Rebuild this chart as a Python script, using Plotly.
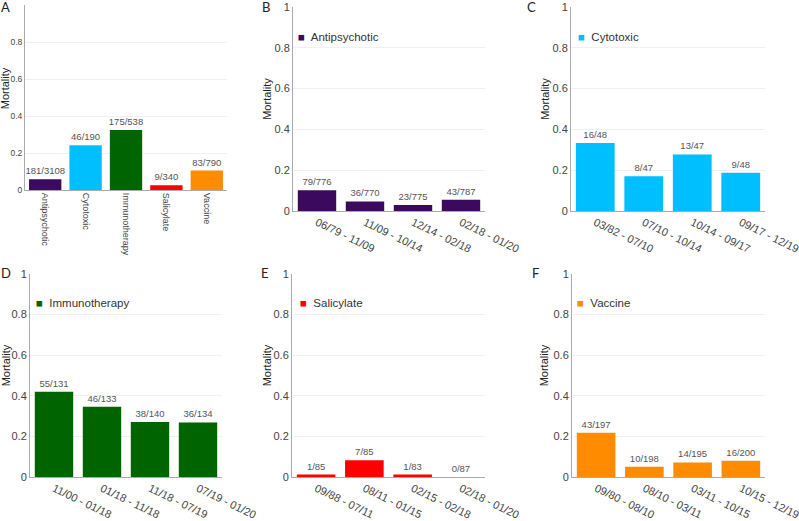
import plotly.graph_objects as go

# ---------------------------------------------------------------------------
# Data
# ---------------------------------------------------------------------------
CLASSES = ["Antipsychotic", "Cytotoxic", "Immunotherapy", "Salicylate", "Vaccine"]
CLASS_MORTALITY = [0.058, 0.242, 0.325, 0.026, 0.105]
CLASS_LABELS = ["181/3108", "46/190", "175/538", "9/340", "83/790"]

ANTI_PERIODS = ["06/79 - 11/09", "11/09 - 10/14", "12/14 - 02/18", "02/18 - 01/20"]
ANTI_MORTALITY = [0.102, 0.047, 0.030, 0.055]
ANTI_LABELS = ["79/776", "36/770", "23/775", "43/787"]

CYTO_PERIODS = ["03/82 - 07/10", "07/10 - 10/14", "10/14 - 09/17", "09/17 - 12/19"]
CYTO_MORTALITY = [0.333, 0.170, 0.277, 0.188]
CYTO_LABELS = ["16/48", "8/47", "13/47", "9/48"]

IMMUNO_PERIODS = ["11/00 - 01/18", "01/18 - 11/18", "11/18 - 07/19", "07/19 - 01/20"]
IMMUNO_MORTALITY = [0.420, 0.346, 0.271, 0.269]
IMMUNO_LABELS = ["55/131", "46/133", "38/140", "36/134"]

SALI_PERIODS = ["09/88 - 07/11", "08/11 - 01/15", "02/15 - 02/18", "02/18 - 01/20"]
SALI_MORTALITY = [0.012, 0.082, 0.012, 0.0]
SALI_LABELS = ["1/85", "7/85", "1/83", "0/87"]

VAC_PERIODS = ["09/80 - 08/10", "08/10 - 03/11", "03/11 - 10/15", "10/15 - 12/19"]
VAC_MORTALITY = [0.218, 0.051, 0.072, 0.080]
VAC_LABELS = ["43/197", "10/198", "14/195", "16/200"]

# ---------------------------------------------------------------------------
# Colours
# ---------------------------------------------------------------------------
COLOURS = {
    "Antipsychotic": "#3b0a5e",
    "Cytotoxic": "#00bfff",
    "Immunotherapy": "#006400",
    "Salicylate": "#ff0000",
    "Vaccine": "#ff8c00",
}
TEXT_GREY = "#444444"
LABEL_GREY = "#555555"
FONT = "Liberation Sans, Arial, sans-serif"

W, H = 799, 521


def px_x(p):
    return p / W


def px_y(p):
    return 1 - p / H


# letter, axis suffix, x-domain px, y-domain px (top, bottom), cats, vals, labels,
# colour, legend name, letter pos px, title x px, legend pos px
panels = [
    ("A", "", (25, 227), (5, 190), CLASSES, CLASS_MORTALITY, CLASS_LABELS,
     [COLOURS[c] for c in CLASSES], None, (5, 7), 5, None),
    ("B", "2", (293, 485), (7, 211), ANTI_PERIODS, ANTI_MORTALITY, ANTI_LABELS,
     COLOURS["Antipsychotic"], "Antipsychotic", (266, 7), 267, (296, 37)),
    ("C", "3", (571, 765), (7, 211), CYTO_PERIODS, CYTO_MORTALITY, CYTO_LABELS,
     COLOURS["Cytotoxic"], "Cytotoxic", (531, 7), 545, (576, 37)),
    ("D", "4", (30, 222), (274, 477), IMMUNO_PERIODS, IMMUNO_MORTALITY, IMMUNO_LABELS,
     COLOURS["Immunotherapy"], "Immunotherapy", (6, 273), 6, (34, 303)),
    ("E", "5", (292, 485), (274, 477), SALI_PERIODS, SALI_MORTALITY, SALI_LABELS,
     COLOURS["Salicylate"], "Salicylate", (265, 273), 267, (298, 303)),
    ("F", "6", (572, 765), (274, 477), VAC_PERIODS, VAC_MORTALITY, VAC_LABELS,
     COLOURS["Vaccine"], "Vaccine", (535, 273), 544, (575, 303)),
]

fig = go.Figure()
layout = {}
annotations = []

for (letter, sfx, xd, yd, cats, vals, labels, colour, name,
     letter_pos, title_x, legend_pos) in panels:
    first = letter == "A"
    fig.add_trace(
        go.Bar(
            x=cats,
            y=vals,
            text=labels,
            textposition="outside",
            constraintext="none",
            cliponaxis=False,
            textfont=dict(size=9.5, color=LABEL_GREY, family=FONT),
            marker=dict(color=colour, line=dict(width=0)),
            xaxis="x" + sfx,
            yaxis="y" + sfx,
            showlegend=False,
            hoverinfo="x+y",
        )
    )
    layout["xaxis" + sfx] = dict(
        domain=[px_x(xd[0]), px_x(xd[1])],
        anchor="y" + sfx,
        automargin=False,
        showline=True,
        linecolor="#aaaaaa",
        linewidth=1,
        showgrid=False,
        ticks="",
        tickangle=90 if first else 26,
        tickfont=dict(size=9 if first else 11, color=TEXT_GREY, family=FONT),
        fixedrange=True,
    )
    layout["yaxis" + sfx] = dict(
        domain=[px_y(yd[1]), px_y(yd[0])],
        anchor="x" + sfx,
        automargin=False,
        range=[0, 1],
        tickvals=[0, 0.2, 0.4, 0.6, 0.8, 1],
        ticktext=["0", "0.2", "0.4", "0.6", "0.8", "1"],
        showline=True,
        linecolor="#aaaaaa",
        linewidth=1,
        showgrid=True,
        gridcolor="#f0f0f0",
        zeroline=False,
        ticks="",
        tickfont=dict(size=8.5 if first else 11, color=TEXT_GREY, family=FONT),
        fixedrange=True,
    )
    # panel letter
    annotations.append(dict(
        text=letter, xref="paper", yref="paper",
        x=px_x(letter_pos[0]), y=px_y(letter_pos[1]),
        xanchor="center", yanchor="middle", showarrow=False,
        font=dict(size=13, color="#222222", family="Lato, sans-serif"),
    ))
    # y-axis title
    annotations.append(dict(
        text="Mortality", xref="paper", yref="y" + sfx + " domain",
        x=px_x(title_x), y=0.55, textangle=-90,
        xanchor="center", yanchor="middle", showarrow=False,
        font=dict(size=11, color="#222222", family=FONT),
    ))
    if name:
        annotations.append(dict(
            text=f"<span style='color:{colour}'>■</span>  {name}",
            xref="paper", yref="paper",
            x=px_x(legend_pos[0]), y=px_y(legend_pos[1]),
            xanchor="left", yanchor="middle", showarrow=False,
            font=dict(size=11.5, color="#333333", family=FONT),
        ))

fig.update_layout(
    **layout,
    annotations=annotations,
    width=W,
    height=H,
    margin=dict(l=0, r=0, t=0, b=0),
    paper_bgcolor="white",
    plot_bgcolor="white",
    bargap=0.2,
    font=dict(family=FONT, color=TEXT_GREY),
)

# drop the browser's default page margin so the figure sits at the window origin
fig.write_html(
    "out.html",
    config={"displayModeBar": False},
    post_script="document.body.style.margin = '0';",
)
